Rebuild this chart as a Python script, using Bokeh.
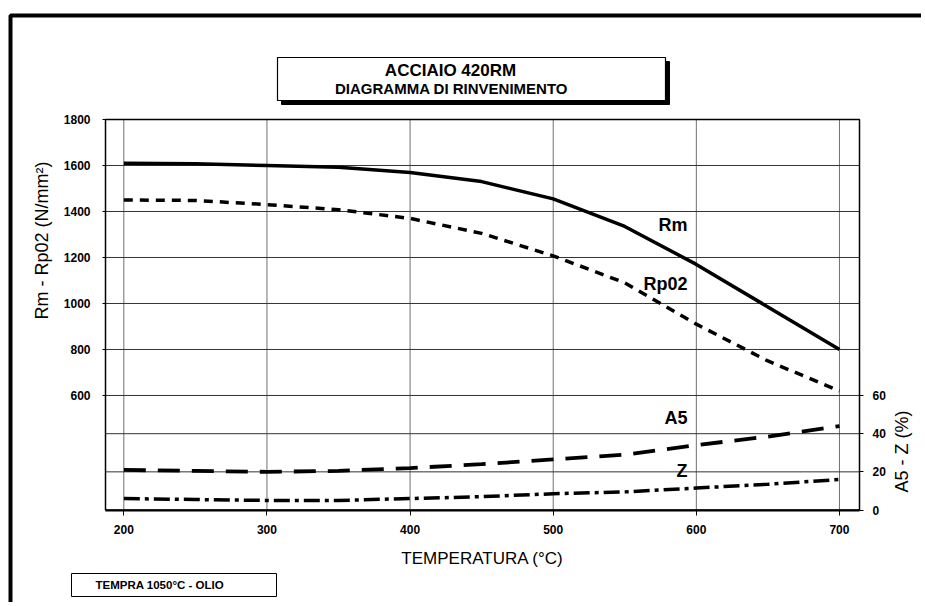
import math
from bokeh.plotting import figure
from bokeh.models import Range1d, LinearAxis, FixedTicker, BoxAnnotation, Label, ColumnDataSource
from bokeh.embed import file_html
from bokeh.resources import INLINE

# ---- data ----
temperature = [200, 250, 300, 350, 400, 450, 500, 550, 600, 650, 700]
rm = [1610, 1608, 1600, 1592, 1570, 1530, 1455, 1335, 1170, 985, 800]
rp02 = [1450, 1448, 1430, 1408, 1370, 1305, 1207, 1090, 910, 750, 620]
a5 = [21, 20.5, 20, 20.5, 22, 24, 26.5, 29, 34, 38.5, 44]
z = [6, 5.5, 5, 5, 6, 7, 8.5, 9.5, 11.5, 13.5, 16]

x_ticks = [200, 300, 400, 500, 600, 700]
left_ticks = [600, 800, 1000, 1200, 1400, 1600, 1800]
right_ticks = [0, 20, 40, 60]
right_grid_ticks = [20, 40]

title_text = "ACCIAIO 420RM"
subtitle_text = "DIAGRAMMA DI RINVENIMENTO"
x_title = "TEMPERATURA (°C)"
left_title = "Rm - Rp02 (N/mm²)"
right_title = "A5 - Z (%)"
note_text = "TEMPRA 1050°C - OLIO"
curve_labels = ["Rm", "Rp02", "A5", "Z"]

FONT = "Liberation Sans"

# ---- layout: the whole canvas is the Bokeh frame; the chart's plot box sits inside ----
W, H = 921, 602
PL, PR, PT, PB = 105, 859, 119, 509.5          # plot box in canvas pixels (y down)
x_lo, x_hi = 187.2, 714.0                       # data limits of the plot box
y_lo, y_hi = 102.0, 1800.0
p_lo, p_hi = 0.0, 204.7

kx = (PR - PL) / (x_hi - x_lo)
ky = (PB - PT) / (y_hi - y_lo)
kp = (PB - PT) / (p_hi - p_lo)

x_range = Range1d(x_lo - PL / kx, x_hi + (W - PR) / kx)
y_range = Range1d(y_lo - (H - PB) / ky, y_hi + PT / ky)
pct_range = Range1d(p_lo - (H - PB) / kp, p_hi + PT / kp)

src = ColumnDataSource(dict(t=temperature, rm=rm, rp02=rp02, a5=a5, z=z))

p = figure(width=W, height=H, x_range=x_range, y_range=y_range,
           x_axis_location=None, y_axis_location=None,
           output_backend="svg", toolbar_location=None, min_border=0)
p.extra_y_ranges = {"pct": pct_range}
p.background_fill_color = "white"
p.border_fill_color = "white"
p.outline_line_color = None
p.grid.visible = False


def style_axis(ax, tick_out, standoff):
    ax.major_tick_out = tick_out
    ax.major_tick_in = 0
    ax.minor_tick_line_color = None
    ax.major_tick_line_color = "black"
    ax.major_label_standoff = standoff
    ax.major_label_text_font = FONT
    ax.major_label_text_font_style = "bold"
    ax.major_label_text_font_size = "12px"
    ax.major_label_text_color = "black"


# bottom axis at the bottom of the plot box
xa = LinearAxis(ticker=FixedTicker(ticks=x_ticks), fixed_location=y_lo, bounds=(x_lo, x_hi))
style_axis(xa, 5, 10)
xa.axis_line_color = "black"
xa.axis_line_width = 2
p.add_layout(xa, "below")

# left axis at the left of the plot box
ya = LinearAxis(ticker=FixedTicker(ticks=left_ticks), fixed_location=x_lo)
style_axis(ya, 3, 12)
ya.axis_line_color = None
p.add_layout(ya, "left")

# right axis (percent)
ra = LinearAxis(y_range_name="pct", ticker=FixedTicker(ticks=right_ticks), fixed_location=x_hi)
style_axis(ra, 4, 9)
ra.axis_line_color = None
p.add_layout(ra, "right")

# grid lines inside the plot box
p.segment(x0=x_ticks, y0=[y_lo] * len(x_ticks), x1=x_ticks, y1=[y_hi] * len(x_ticks),
          line_color="#707070", line_width=1)
p.segment(x0=[x_lo] * len(left_ticks), y0=left_ticks, x1=[x_hi] * len(left_ticks), y1=left_ticks,
          line_color="#333333", line_width=1)
p.segment(x0=[x_lo] * len(right_grid_ticks), y0=right_grid_ticks,
          x1=[x_hi] * len(right_grid_ticks), y1=right_grid_ticks,
          y_range_name="pct", line_color="#333333", line_width=1)

# plot box outline
p.add_layout(BoxAnnotation(left=x_lo, right=x_hi, bottom=y_lo, top=y_hi,
                           fill_alpha=0, line_color="black", line_alpha=1, line_width=1.5))

# curves
p.line("t", "rm", source=src, line_color="black", line_width=3.5)
p.line("t", "rp02", source=src, line_color="black", line_width=3.5, line_dash="9 7")
p.line("t", "a5", source=src, y_range_name="pct", line_color="black", line_width=3.8, line_dash="22 12")
p.line("t", "z", source=src, y_range_name="pct", line_color="black", line_width=3.5, line_dash="16 5 4 5")


# ---- decorations, placed in canvas pixels (X right, Y down) ----
def sbox(X0, X1, Y0, Y1, **kw):
    return BoxAnnotation(left=X0, right=X1, top=H - Y0, bottom=H - Y1,
                         left_units="screen", right_units="screen",
                         top_units="screen", bottom_units="screen", line_alpha=1, **kw)


def slabel(X, Y, text, size, bold=False, align="center", angle=0.0):
    return Label(x=X, y=H - Y, x_units="screen", y_units="screen", text=text,
                 angle=angle, text_font=FONT, text_font_size=size,
                 text_font_style="bold" if bold else "normal",
                 text_align=align, text_baseline="middle", text_color="black")


# outer frame (only top and left edges are inside the picture)
p.add_layout(sbox(10, 1400, 15, 1000, fill_alpha=0, line_color="black", line_width=4))

# title box with shadow
p.add_layout(sbox(281, 669, 61, 104, fill_color="black", fill_alpha=1, line_color="black", line_width=1))
p.add_layout(sbox(277, 665, 57, 100, fill_color="white", fill_alpha=1, line_color="black", line_width=1.2))
p.add_layout(slabel(450, 70, title_text, "17px", bold=True))
p.add_layout(slabel(451, 88, subtitle_text, "15px", bold=True))

# note box
p.add_layout(sbox(71, 276, 573, 596, fill_color="white", fill_alpha=1, line_color="black", line_width=1))
p.add_layout(slabel(95, 584, note_text, "11.5px", bold=True, align="left"))

# axis titles
p.add_layout(slabel(482, 558, x_title, "17px"))
p.add_layout(slabel(41, 240, left_title, "18px", angle=math.pi / 2))
p.add_layout(slabel(901, 451, right_title, "18px", angle=math.pi / 2))

# curve labels
for txt, Y in zip(curve_labels, [224, 283, 417, 470]):
    p.add_layout(slabel(687, Y, txt, "18px", bold=True, align="right"))

open("out.html", "w").write(file_html(p, INLINE))
